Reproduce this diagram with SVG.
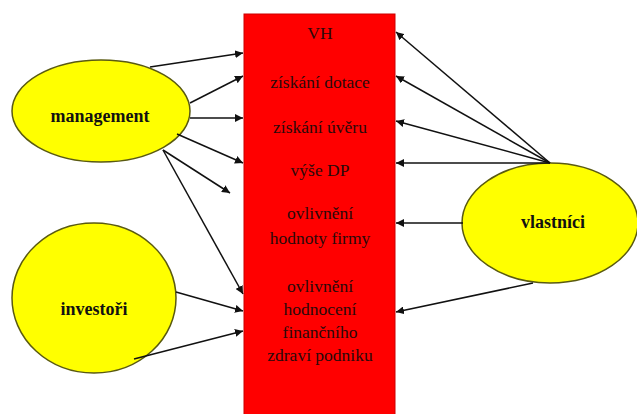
<svg xmlns="http://www.w3.org/2000/svg" width="637" height="414" viewBox="0 0 637 414">
<style>
.node ellipse{fill:#ffff00;stroke:#5a5a10;stroke-width:1.5}
.lbl{font-family:"Liberation Serif","Times New Roman",serif;font-weight:bold;font-size:18px;fill:#111;text-anchor:middle}
.box{font-family:"Liberation Serif","Times New Roman",serif;font-size:17.5px;fill:#2a0a0a;text-anchor:middle}
.conn line{stroke:#111;stroke-width:1.5;marker-end:url(#ah)}
</style>
<defs>
<marker id="ah" viewBox="0 0 10 10" refX="10" refY="5" markerWidth="8" markerHeight="8" markerUnits="userSpaceOnUse" orient="auto">
<path d="M0,0 L10,5 L0,10 z" fill="#111"/>
</marker>
</defs>
<rect width="637" height="414" fill="#fff"/>
<g id="center">
<rect x="244" y="14" width="151" height="402" fill="#ff0000" stroke="#cc0000" stroke-width="1"/>
<text class="box" x="320" y="39">VH</text>
<text class="box" x="320" y="88">získání dotace</text>
<text class="box" x="320" y="133">získání úvěru</text>
<text class="box" x="320" y="176">výše DP</text>
<text class="box" x="320" y="219">ovlivnění</text>
<text class="box" x="320" y="244">hodnoty firmy</text>
<text class="box" x="320" y="292">ovlivnění</text>
<text class="box" x="320" y="315">hodnocení</text>
<text class="box" x="320" y="338">finančního</text>
<text class="box" x="320" y="361">zdraví podniku</text>
</g>
<g id="management" class="node">
<ellipse cx="101" cy="111" rx="89" ry="51"/>
<text class="lbl" x="100" y="122">management</text>
</g>
<g id="investori" class="node">
<ellipse cx="94" cy="298" rx="82" ry="75"/>
<text class="lbl" x="94" y="315">investoři</text>
</g>
<g id="vlastnici" class="node">
<ellipse cx="550" cy="223" rx="88" ry="60"/>
<text class="lbl" x="553" y="228">vlastníci</text>
</g>
<g id="connectors" class="conn">
<line x1="150" y1="67" x2="243" y2="53"/>
<line x1="190" y1="103" x2="243" y2="76"/>
<line x1="190" y1="118" x2="243" y2="118"/>
<line x1="177" y1="134" x2="243" y2="163"/>
<line x1="163" y1="150" x2="230" y2="193"/>
<line x1="163" y1="150" x2="243" y2="294"/>
<line x1="176" y1="292" x2="243" y2="311"/>
<line x1="134" y1="359" x2="243" y2="331"/>
<line x1="550" y1="163" x2="396" y2="32"/>
<line x1="550" y1="163" x2="396" y2="76"/>
<line x1="550" y1="163" x2="396" y2="121"/>
<line x1="550" y1="163" x2="396" y2="163"/>
<line x1="463" y1="223" x2="396" y2="223"/>
<line x1="533" y1="283" x2="396" y2="312"/>
</g>
</svg>
